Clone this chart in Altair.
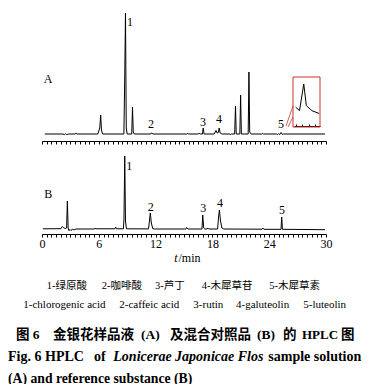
import altair as alt
import pandas as pd

SERIF = "Liberation Serif, Times New Roman, Noto Sans CJK SC"
RED = "#c8322f"

# ---------------- data ----------------
# Chromatogram A (sample solution): (retention time / min, signal / a.u.)
trace_a = [
    (0.3, 0.0), (2.2, 0.0), (2.4, -0.6), (2.5, 0.3), (2.6, -0.6), (2.8, 0.0),
    (3.5, 0.0), (3.6, 0.8), (3.7, 0.0), (5.9, 0.0), (6.1, 6.0), (6.2, 19.0),
    (6.28, 4.0), (6.4, 0.0), (8.65, 0.0), (8.74, 57.0), (8.82, 121.0),
    (8.90, 6.0), (9.0, 0.0), (9.48, 0.0), (9.56, 27.0), (9.64, 2.0),
    (9.75, 0.0), (11.5, 0.0), (11.58, 1.2), (11.7, 0.0), (15.3, 0.0),
    (15.4, 0.6), (15.5, 0.0), (16.5, 0.0), (16.6, 0.8), (16.7, 0.0),
    (16.95, 0.0), (17.03, 6.0), (17.12, 0.0), (18.2, 0.0), (18.3, 2.0),
    (18.38, 3.5), (18.5, 1.0), (18.62, 1.5), (18.72, 6.0), (18.82, 1.0),
    (19.0, 0.0), (19.8, 0.0), (19.9, -0.6), (20.0, 0.0), (20.35, 0.0),
    (20.44, 28.0), (20.52, 0.0), (20.9, 0.0), (20.98, 39.0), (21.06, 0.0),
    (21.78, 0.0), (21.86, 62.0), (21.94, 2.0), (22.1, 0.0), (23.2, 0.0),
    (23.3, 0.6), (23.4, 0.0), (24.8, 0.0), (24.9, -0.6), (25.0, 0.4),
    (25.1, -0.6), (25.25, 1.5), (25.4, -0.5), (25.5, 0.0), (29.9, 0.0),
]

# Chromatogram B (mixed reference substances)
trace_b = [
    (0.1, 0.2), (2.0, 0.3), (2.15, 2.5), (2.25, 1.5), (2.45, 0.5), (2.6, 1.0),
    (2.68, 28.0), (2.76, 1.0), (2.85, -1.7), (2.95, -0.5), (3.05, -1.5),
    (3.2, -0.3), (3.4, -0.8), (3.6, 0.0), (5.5, 0.0), (5.6, 0.5), (5.8, 0.2),
    (7.7, 0.2), (7.78, 2.0), (7.86, 0.2), (8.6, 0.2), (8.66, 10.0),
    (8.74, 73.0), (8.82, 8.0), (8.92, 0.2), (11.25, 0.1), (11.35, 8.0),
    (11.44, 16.0), (11.55, 6.0), (11.7, 0.3), (11.9, 0.0), (15.2, 0.0),
    (15.28, 1.5), (15.4, 0.0), (16.9, 0.0), (16.98, 14.0), (17.08, 1.0),
    (17.2, 0.0), (17.45, 0.0), (17.5, 1.0), (17.6, 0.0), (18.55, 0.0),
    (18.65, 12.0), (18.74, 19.0), (18.86, 8.0), (19.0, 1.0), (19.2, 0.0),
    (23.25, -0.2), (23.34, 1.0), (23.45, -0.3), (25.25, -0.3), (25.32, 12.0),
    (25.4, -0.3), (29.9, -0.7),
]

# Enlarged view of peak 5 in chromatogram A
inset_time = [25.00, 25.12, 25.25, 25.33, 25.50, 25.72]
inset_signal = [0.90, 0.73, 2.00, 0.97, 0.73, 0.60]

# Peak / panel labels
labels_a = ["A", "1", "2", "3", "4", "5"]
labels_a_time = [0.63, 9.30, 11.51, 17.00, 18.70, 25.25]
labels_a_height = [55.0, 112.0, 10.0, 12.0, 15.0, 10.0]

labels_b = ["B", "1", "2", "3", "4", "5"]
labels_b_time = [0.67, 9.22, 11.48, 17.04, 18.80, 25.35]
labels_b_height = [34.7, 63.0, 22.3, 20.7, 26.3, 19.0]

tick_values = [i * 0.5 for i in range(61)]
inset_ticks = [25.0, 25.2, 25.4, 25.6]

legend_cn = ["1-绿原酸", "2-咖啡酸", "3-芦丁", "4-木犀草苷", "5-木犀草素"]
legend_en = ["1-chlorogenic acid", "2-caffeic acid", "3-rutin", "4-galuteolin", "5-luteolin"]

# ---------------- frames ----------------
df_a = pd.DataFrame(trace_a, columns=["t", "s"])
df_b = pd.DataFrame(trace_b, columns=["t", "s"])
df_in = pd.DataFrame({"t": inset_time, "s": inset_signal})
df_la = pd.DataFrame({"lab": labels_a, "t": labels_a_time, "s": labels_a_height})
df_lb = pd.DataFrame({"lab": labels_b, "t": labels_b_time, "s": labels_b_height})
one = pd.DataFrame({"k": [0]})

X_DOM = [0, 30]
YA_DOM = [-100, 121]
YB_DOM = [-5, 216]

xs = alt.Scale(domain=X_DOM, nice=False, zero=False)
ya = alt.Scale(domain=YA_DOM, nice=False, zero=False)
yb = alt.Scale(domain=YB_DOM, nice=False, zero=False)

axis_top_a = alt.Axis(
    orient="bottom", offset=-93, values=tick_values, labels=False, title=None,
    grid=False, tickSize=3, tickColor="black", domainColor="black",
    tickWidth=1, domainWidth=1,
)
axis_bottom = alt.Axis(
    orient="bottom", values=tick_values, title=None, grid=False, tickSize=3,
    tickColor="black", domainColor="black", tickWidth=1, domainWidth=1,
    labelExpr="datum.value % 6 === 0 ? format(datum.value, 'd') : ''",
    labelFont="Liberation Serif", labelFontSize=12, labelColor="black",
    labelPadding=1, labelOverlap=False, labelFlush=False,
)

line_a = alt.Chart(df_a).mark_line(color="black", strokeWidth=1).encode(
    x=alt.X("t:Q", scale=xs, axis=axis_top_a),
    y=alt.Y("s:Q", scale=ya, axis=None),
    order="t:Q",
)
line_b = alt.Chart(df_b).mark_line(color="black", strokeWidth=1).encode(
    x=alt.X("t:Q", scale=xs, axis=axis_bottom),
    y=alt.Y("s:Q", scale=yb, axis=None),
    order="t:Q",
)
text_a = alt.Chart(df_la).mark_text(
    font="Liberation Serif", fontSize=12, color="black", baseline="middle", align="center"
).encode(
    x=alt.X("t:Q", scale=xs, axis=None),
    y=alt.Y("s:Q", scale=ya, axis=None),
    text="lab:N",
)
text_b = alt.Chart(df_lb).mark_text(
    font="Liberation Serif", fontSize=12, color="black", baseline="middle", align="center"
).encode(
    x=alt.X("t:Q", scale=xs, axis=None),
    y=alt.Y("s:Q", scale=yb, axis=None),
    text="lab:N",
)

# inset (zoom on peak 5 of chromatogram A)
inset = alt.Chart(df_in).mark_line(color="black", strokeWidth=1).encode(
    x=alt.X("t:Q", scale=alt.Scale(domain=[24.95, 25.75], range=[252, 278], nice=False, zero=False),
            axis=alt.Axis(orient="top", offset=-113, values=inset_ticks, labels=False, title=None,
                          grid=False, tickSize=2, tickColor="black", domainColor="black")),
    y=alt.Y("s:Q", scale=alt.Scale(domain=[0, 2], range=[113, 71], nice=False, zero=False), axis=None),
    order="t:Q",
)
inset_box = alt.Chart(one).mark_rect(fill=None, stroke=RED, strokeWidth=1).encode(
    x=alt.value(251), x2=alt.value(278), y=alt.value(64), y2=alt.value(114)
)
lead1 = alt.Chart(one).mark_rule(color=RED, strokeWidth=0.8).encode(
    x=alt.value(244), y=alt.value(113), x2=alt.value(251), y2=alt.value(93)
)
lead2 = alt.Chart(one).mark_rule(color=RED, strokeWidth=0.8).encode(
    x=alt.value(246), y=alt.value(114), x2=alt.value(251), y2=alt.value(104)
)


def txt(s, x, y, size=11, weight="normal", style="normal", align="left"):
    # y is the alphabetic baseline (plot coordinates)
    return alt.Chart(one).mark_text(
        text=s, font=SERIF, fontSize=size, fontWeight=weight, fontStyle=style,
        align=align, baseline="alphabetic", color="black",
    ).encode(x=alt.value(x), y=alt.value(y))


texts = [
    txt("t", 134, 249, size=12, style="italic", align="center"),
    txt("/min", 136.5, 249, size=12),
]
cn_x = [4.7, 59.7, 113, 159.7, 227.3]
en_x = [-18.7, 77.3, 151.3, 194, 261.3]
for s, x in zip(legend_cn, cn_x):
    texts.append(txt(s, x, 276, size=10.5))
for s, x in zip(legend_en, en_x):
    texts.append(txt(s, x, 294.5, size=11))

caption_cn = [("图 6", -26, 13.5), ("金银花样品液", 11, 13.5), ("(A)", 99, 13.5),
              ("及混合对照品", 128, 13.5), ("(B)", 215, 13.5), ("的", 241, 13.5),
              ("HPLC", 260, 13), ("图", 299, 13.5)]
for s, x, sz in caption_cn:
    texts.append(txt(s, x, 325.5, size=sz, weight="bold"))

texts += [
    txt("Fig. 6", -34, 348, size=14, weight="bold"),
    txt("HPLC", 3, 348, size=14, weight="bold"),
    txt("of", 52, 348, size=14, weight="bold"),
    txt("Lonicerae Japonicae Flos", 71.3, 348, size=14, weight="bold", style="italic"),
    txt("sample solution", 226.3, 348, size=14, weight="bold"),
    txt("(A) and reference substance (B)", -34, 369.5, size=13.7, weight="bold"),
]

chart = alt.layer(
    line_a, line_b, text_a, text_b, inset, inset_box, lead1, lead2, *texts
).resolve_scale(x="independent", y="independent").resolve_axis(
    x="independent", y="independent"
).properties(
    width=284, height=221,
    autosize=alt.AutoSizeParams(type="none"),
    padding={"left": 34, "top": 5, "right": 36, "bottom": 150},
).configure_view(stroke=None)

chart.save("out.html", embed_options={"renderer": "svg", "actions": False})
